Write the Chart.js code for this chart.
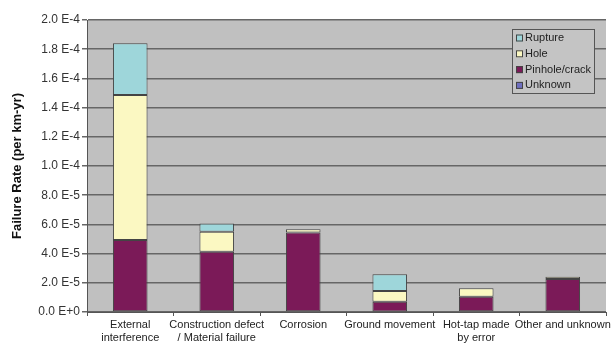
<!DOCTYPE html>
<html lang="en">
<head>
    <meta charset="UTF-8">
    <title>Failure Rate by Cause</title>
    <script src="https://cdn.jsdelivr.net/npm/chart.js"></script>
    <style>
        html, body { margin: 0; padding: 0; background: #fff; }
        #wrap { width: 616px; height: 347px; }
    </style>
</head>
<body>
    <div id="wrap"><canvas id="failureChart"></canvas></div>

    <script>
        // categories and values (failure rate per km-yr)
        const causes = [
            ['External', 'interference'],
            ['Construction defect', '/ Material failure'],
            'Corrosion',
            'Ground movement',
            ['Hot-tap made', 'by error'],
            'Other and unknown'
        ];
        const unknownRate = [0, 0, 0, 3e-7, 0, 0];
        const pinholeRate = [4.93e-5, 4.13e-5, 5.45e-5, 6.8e-6, 1.05e-5, 2.26e-5];
        const holeRate = [9.93e-5, 1.37e-5, 2.1e-6, 7.3e-6, 5.7e-6, 1.6e-6];
        const ruptureRate = [3.54e-5, 5.7e-6, 0, 1.14e-5, 0, 0];

        const FONT = 'Liberation Sans, Arial, sans-serif';

        // grey plot background
        const plotBackground = {
            id: 'plotBackground',
            beforeDraw(chart) {
                const { ctx, chartArea: a } = chart;
                ctx.save();
                ctx.fillStyle = '#c0c0c0';
                ctx.fillRect(a.left, a.top, a.right - a.left, a.bottom - a.top);
                ctx.restore();
            }
        };

        // boxed legend sitting inside the plot, top right
        const boxLegend = {
            id: 'boxLegend',
            afterDraw(chart) {
                const ctx = chart.ctx;
                const sets = chart.data.datasets.slice().reverse();
                const x = 512, y = 29, w = 82, h = 64;
                ctx.save();
                ctx.fillStyle = '#c4c4c4';
                ctx.fillRect(x, y, w, h);
                ctx.strokeStyle = '#555';
                ctx.lineWidth = 1;
                ctx.strokeRect(x + 0.5, y + 0.5, w, h);
                ctx.font = '11px ' + FONT;
                ctx.textBaseline = 'middle';
                sets.forEach((ds, i) => {
                    const rowY = y + 9 + i * 15.8;
                    ctx.fillStyle = ds.backgroundColor;
                    ctx.fillRect(x + 4, rowY - 3.5, 7, 7);
                    ctx.strokeStyle = '#444';
                    ctx.strokeRect(x + 4.5, rowY - 3, 6, 6);
                    ctx.fillStyle = '#222';
                    ctx.fillText(ds.label, x + 13, rowY);
                });
                ctx.restore();
            }
        };

        const bar = (label, data, color) => ({
            label: label,
            data: data,
            backgroundColor: color,
            borderColor: '#444',
            borderWidth: 1,
            borderSkipped: false,
            barPercentage: 0.4,
            categoryPercentage: 1.0
        });

        new Chart(document.getElementById('failureChart'), {
            type: 'bar',
            data: {
                labels: causes,
                datasets: [
                    bar('Unknown', unknownRate, '#6f6fbf'),
                    bar('Pinhole/crack', pinholeRate, '#7b1a58'),
                    bar('Hole', holeRate, '#fbf8c2'),
                    bar('Rupture', ruptureRate, '#9ed6da')
                ]
            },
            plugins: [plotBackground, boxLegend],
            options: {
                responsive: true,
                maintainAspectRatio: false,
                animation: false,
                layout: { padding: { top: 20, right: 10, left: 0, bottom: 0 } },
                plugins: {
                    legend: { display: false },
                    tooltip: { enabled: false }
                },
                scales: {
                    x: {
                        stacked: true,
                        afterFit: s => { s.height = 35; },
                        grid: {
                            offset: true,
                            drawOnChartArea: false,
                            tickLength: 4,
                            color: '#555'
                        },
                        border: { color: '#555', width: 1 },
                        ticks: {
                            color: '#222',
                            padding: 2,
                            maxRotation: 0,
                            autoSkip: false,
                            font: { family: FONT, size: 11 }
                        }
                    },
                    y: {
                        stacked: true,
                        min: 0,
                        max: 2e-4,
                        afterFit: s => { s.width = 87; },
                        grid: {
                            color: '#666',
                            lineWidth: 1.5,
                            tickLength: 5
                        },
                        border: { color: '#555', width: 1 },
                        ticks: {
                            stepSize: 2e-5,
                            color: '#333',
                            padding: 2,
                            font: { family: FONT, size: 12 },
                            callback: v => Number(v).toExponential(1).replace('e', ' E')
                        },
                        title: {
                            display: true,
                            text: 'Failure Rate (per km-yr)',
                            color: '#111',
                            padding: { top: 10, bottom: 0 },
                            font: { family: FONT, size: 13, weight: 'bold' }
                        }
                    }
                }
            }
        });
    </script>
</body>
</html>
